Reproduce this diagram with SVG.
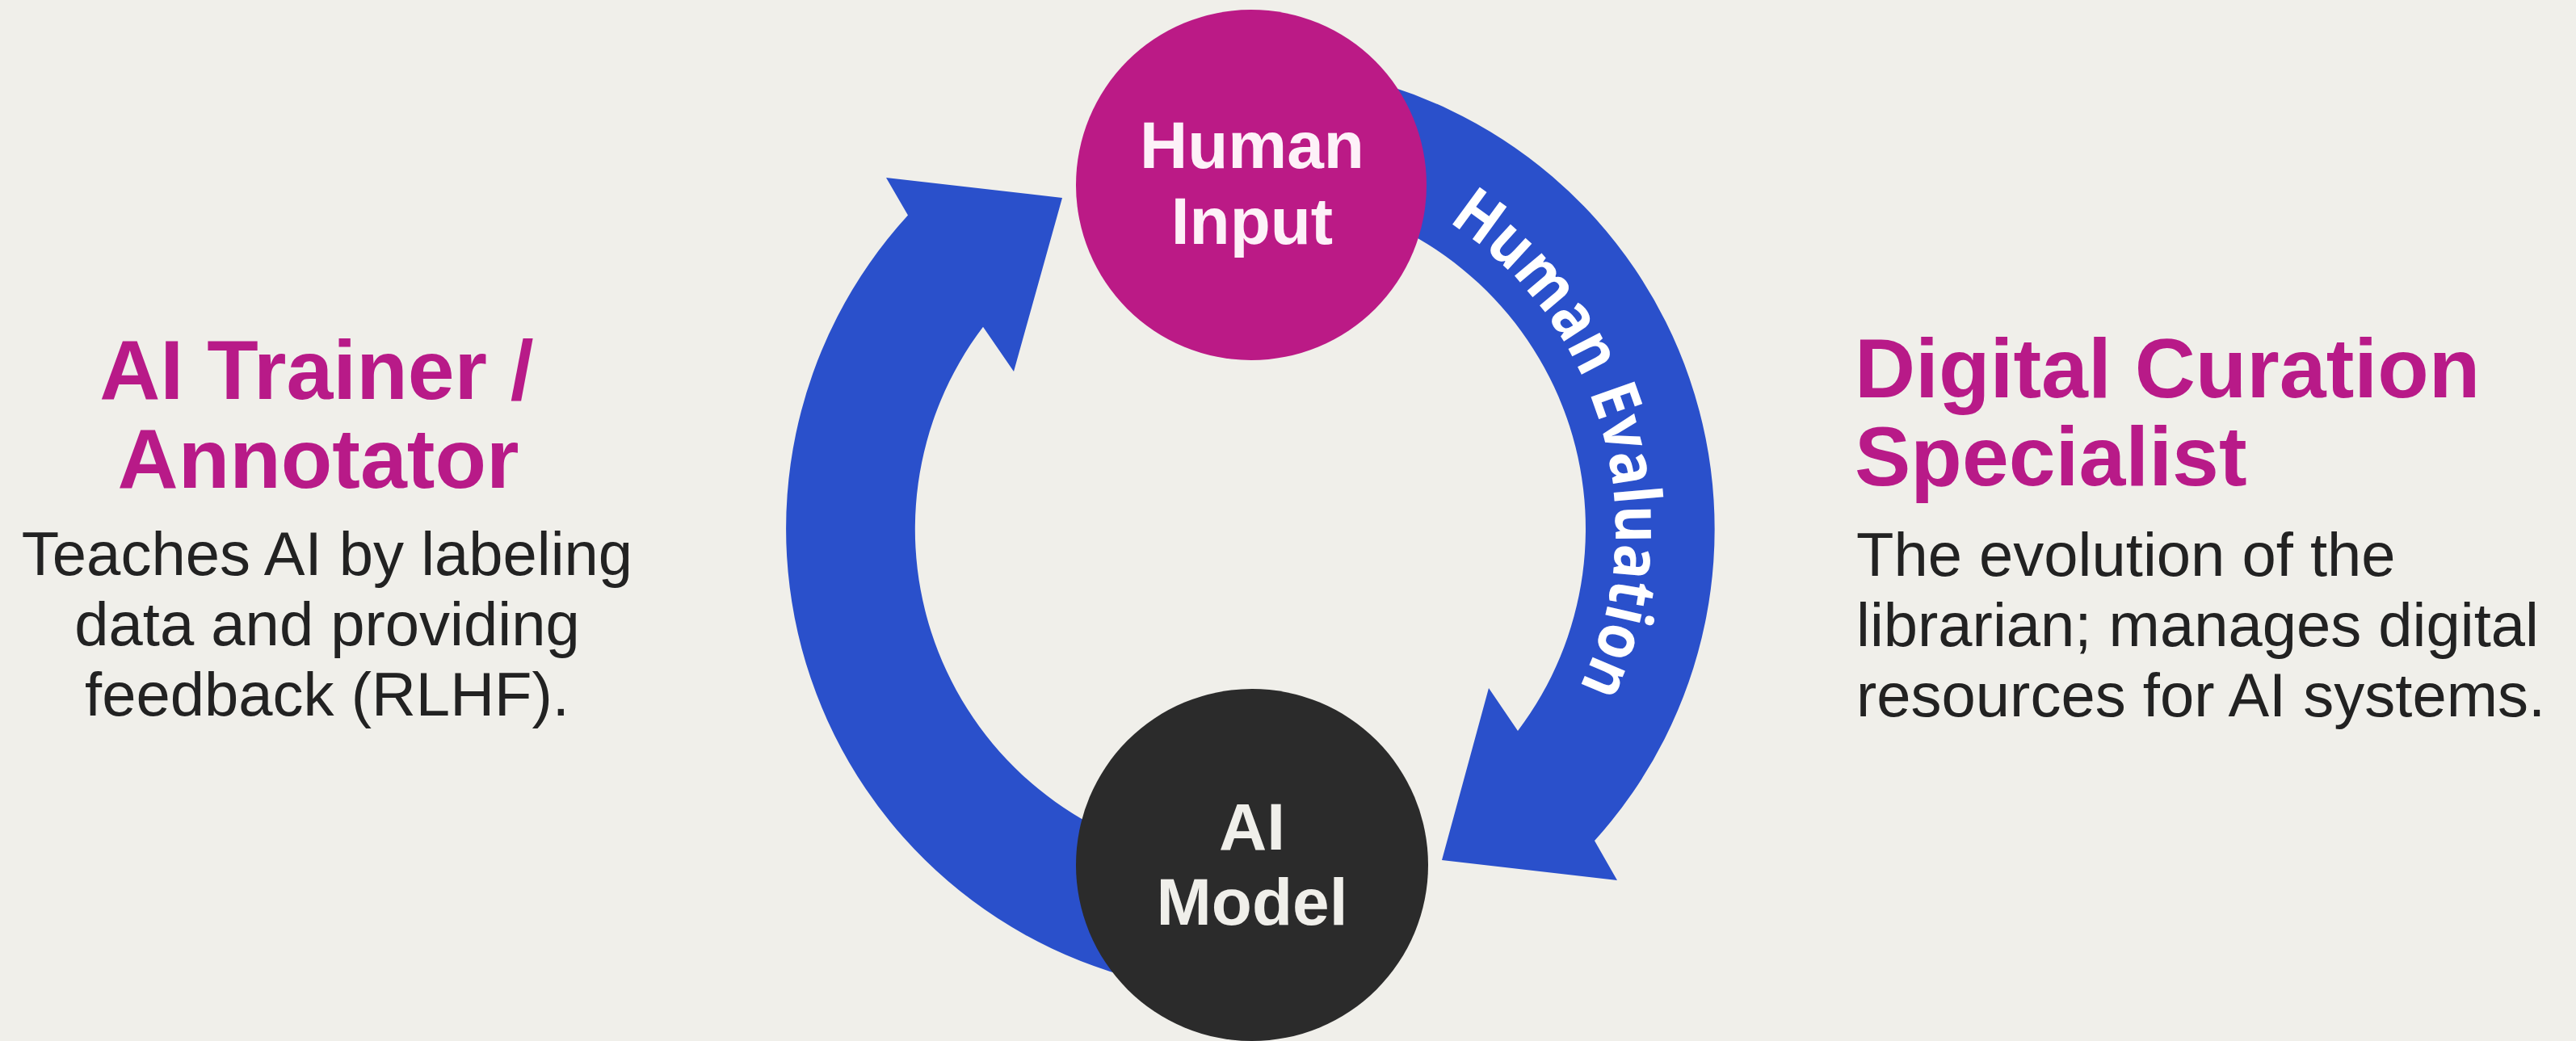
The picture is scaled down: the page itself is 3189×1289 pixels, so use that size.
<svg xmlns="http://www.w3.org/2000/svg" width="3189" height="1289" viewBox="0 0 3189 1289">
<style>
.title{font-family:"Liberation Sans",Arial,sans-serif;font-weight:700;font-size:104px;fill:#b81a88}
.body{font-family:"Liberation Sans",Arial,sans-serif;font-size:76px;fill:#222222}
.node{font-family:"Liberation Sans",Arial,sans-serif;font-weight:700;font-size:82px;text-anchor:middle}
.arrow{fill:#2a50cb}
.lbl{font-family:"Open Sans","Liberation Sans",sans-serif;font-weight:700;font-size:80px;fill:#ffffff}
</style>
<defs>
<path id="evalPath" d="M 1659.3 216.9 A 452 452 0 0 1 1871.8 970.4"/>
</defs>
<rect x="0" y="0" width="3189" height="1289" fill="#f0efea"/>
<g id="connectors">
<path id="arrow-left" class="arrow" d="M 1448 1221 A 575 575 0 0 1 1124 266.5 L 1097 220 L 1315 245 L 1255 460 L 1217 404.7 A 415 415 0 0 0 1476 1064 Z"/>
<path id="arrow-right" class="arrow" d="M 1648 89 A 575 575 0 0 1 1974 1041 L 2002 1090 L 1785 1065 L 1843 852 L 1879 905 A 415 415 0 0 0 1620 246 Z"/>
<text class="lbl"><textPath href="#evalPath" startOffset="50%" text-anchor="middle" textLength="655" lengthAdjust="spacingAndGlyphs">Human Evaluation</textPath></text>
</g>
<g id="node-human-input">
<circle cx="1549" cy="229" r="217" fill="#bb1a86"/>
<text class="node" x="1550" y="208" fill="#fdf1f8">Human</text>
<text class="node" x="1550" y="302" fill="#fdf1f8">Input</text>
</g>
<g id="node-ai-model">
<circle cx="1550" cy="1071" r="218" fill="#2b2b2b"/>
<text class="node" x="1550" y="1052" fill="#f0efea">AI</text>
<text class="node" x="1550" y="1145" fill="#f0efea">Model</text>
</g>
<g id="left-text">
<text class="title" x="392" y="494" text-anchor="middle">AI Trainer /</text>
<text class="title" x="394" y="604" text-anchor="middle">Annotator</text>
<text class="body" x="405" y="712" text-anchor="middle">Teaches AI by labeling</text>
<text class="body" x="405" y="799" text-anchor="middle">data and providing</text>
<text class="body" x="405" y="886" text-anchor="middle">feedback (RLHF).</text>
</g>
<g id="right-text">
<text class="title" x="2296" y="492">Digital Curation</text>
<text class="title" x="2296" y="601">Specialist</text>
<text class="body" x="2298" y="713">The evolution of the</text>
<text class="body" x="2298" y="800">librarian; manages digital</text>
<text class="body" x="2298" y="887">resources for AI systems.</text>
</g>
</svg>
